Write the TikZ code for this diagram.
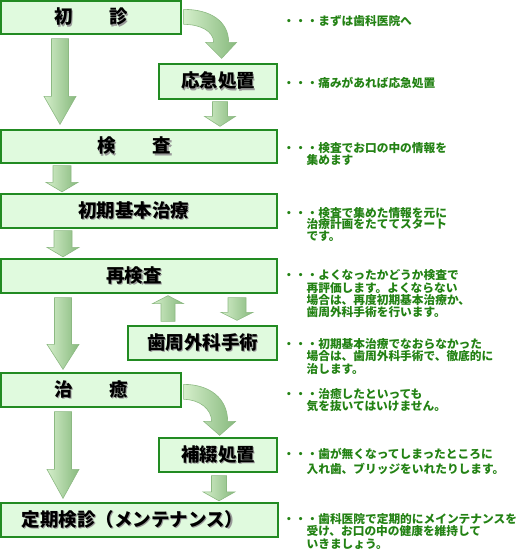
\documentclass[tikz,border=0pt]{standalone}
\usepackage{fontspec}
\newfontfamily\jp{Noto Sans CJK JP}
\usetikzlibrary{calc}
\definecolor{boxline}{RGB}{34,139,34}
\definecolor{boxfill}{RGB}{224,250,222}
\definecolor{notegreen}{RGB}{35,130,20}
\definecolor{arrL}{RGB}{212,238,202}
\definecolor{arrM}{RGB}{182,222,170}
\definecolor{arrR}{RGB}{135,185,125}
\definecolor{arrLine}{RGB}{140,185,130}
\newcommand\shtxt[1]{\makebox[0pt][l]{\raisebox{-1.3pt}{\hspace{1.3pt}\textcolor{black!40}{#1}}}#1}
\newcommand\nf[1]{\jp\bfseries\fontsize{11.7}{#1}\selectfont}
% #1 cx, #2 upper anchor, #3 lower anchor, #4 gap top, #5 gap tip, #6 shaft hw, #7 head hw, #8 head length
\newcommand\blkdown[8]{\path[blk] let \p1=(#2), \p2=(#3) in
  (#1pt-#6pt,\y1-#4pt) -- (#1pt+#6pt,\y1-#4pt) -- (#1pt+#6pt,\y2+#5pt+#8pt) -- (#1pt+#7pt,\y2+#5pt+#8pt)
  -- (#1pt,\y2+#5pt) -- (#1pt-#7pt,\y2+#5pt+#8pt) -- (#1pt-#6pt,\y2+#5pt+#8pt) -- cycle;}
% #1 cx, #2 lower anchor (start), #3 upper anchor (tip side)
\newcommand\blkup[8]{\path[blk] let \p1=(#2), \p2=(#3) in
  (#1pt-#6pt,\y1+#4pt) -- (#1pt+#6pt,\y1+#4pt) -- (#1pt+#6pt,\y2-#5pt-#8pt) -- (#1pt+#7pt,\y2-#5pt-#8pt)
  -- (#1pt,\y2-#5pt) -- (#1pt-#7pt,\y2-#5pt-#8pt) -- (#1pt-#6pt,\y2-#5pt-#8pt) -- cycle;}
\begin{document}
\begin{tikzpicture}[x=1pt,y=1pt,
  box/.style={draw=boxline, line width=1.3pt, fill=boxfill, inner sep=0pt,
    font=\jp\bfseries\fontsize{18.5}{20}\selectfont, text=black},
  note/.style={anchor=north west, inner sep=0pt, align=left, text=notegreen},
  blk/.style={draw=arrLine, line width=0.6pt, left color=arrL, middle color=arrM, right color=arrR}]
\useasboundingbox (0,0) rectangle (521,-550);

% boxes
\node[box, minimum width=180pt, minimum height=33pt] (shoshin) at (91,-17.5) {\shtxt{初　　診}};
\node[box, minimum width=118pt, minimum height=35pt] (oukyuu) at (218,-81.5) {\shtxt{応急処置}};
\node[box, minimum width=276pt, minimum height=33pt] (kensa) at (139,-146.5) {\shtxt{検　　査}\kern9pt};
\node[box, minimum width=276pt, minimum height=34pt] (shoki) at (139,-211) {\shtxt{初期基本治療}\kern11pt};
\node[box, minimum width=276pt, minimum height=34pt] (saikensa) at (139,-276) {\shtxt{再検査}\kern10pt};
\node[box, minimum width=149pt, minimum height=34pt] (shishuu) at (202.5,-343) {\shtxt{歯周外科手術}};
\node[box, minimum width=180pt, minimum height=34pt] (chiyu) at (91,-390) {\shtxt{治　　癒}};
\node[box, minimum width=118pt, minimum height=34pt] (hotetsu) at (218,-455) {\shtxt{補綴処置}};
\node[box, minimum width=277pt, minimum height=34pt] (teiki) at (139.5,-520) {\shtxt{定期検診（メンテナンス）}\kern14pt};

% straight block arrows
\blkdown{60}{shoshin.south}{kensa.north}{4}{5}{8.5}{16}{28}
\blkdown{220}{oukyuu.south}{kensa.north}{2}{3}{7.5}{15.5}{10}
\blkdown{62}{kensa.south}{shoki.north}{2}{1.5}{9}{16}{9.5}
\blkdown{63}{shoki.south}{saikensa.north}{2}{1.5}{9}{16}{9.5}
\blkdown{63}{saikensa.south}{chiyu.north}{4}{3}{8.5}{16}{25}
\blkup{168}{shishuu.north}{saikensa.south}{4}{2}{7}{15.5}{8}
\blkdown{237}{saikensa.south}{shishuu.north}{4}{5}{9}{16}{8}
\blkdown{63}{chiyu.south}{teiki.north}{4}{4}{8.5}{16}{29}
\blkdown{219}{hotetsu.south}{teiki.north}{3}{1.5}{7.5}{16}{9}

% curved block arrows
\begin{scope}[shift={(shoshin.north east)}]
  \path[blk] (2,-9) .. controls (29,-9) and (47,-21) .. (47,-42) -- (55,-42) -- (40,-58) -- (24,-42) -- (32,-42)
    .. controls (32,-31) and (19,-24) .. (2,-24) -- cycle;
\end{scope}
\begin{scope}[shift={(chiyu.north east)}]
  \path[blk] (2,-12) .. controls (28,-12) and (46,-26) .. (46,-49) -- (54,-49) -- (38,-63) -- (22,-49) -- (30,-49)
    .. controls (30,-37) and (18,-27) .. (2,-27) -- cycle;
\end{scope}

% notes
\node[note, font=\nf{12}] (n1) at (283,-14.7) {・・・まずは歯科医院へ};
\node[note, font=\nf{12}] (n2) at (283,-76.7) {・・・痛みがあれば応急処置};
\node[note, font=\nf{11}] (n3) at (283,-142) {・・・検査でお口の中の情報を\\\hspace*{2em}集めます};
\node[note, font=\nf{11.5}] (n4) at (283,-207) {・・・検査で集めた情報を元に\\\hspace*{2em}治療計画をたててスタート\\\hspace*{2em}です。};
\node[note, font=\nf{12.3}] (n5) at (283,-269.7) {・・・よくなったかどうか検査で\\\hspace*{2em}再評価します。よくならない\\\hspace*{2em}場合は、再度初期基本治療か、\\\hspace*{2em}歯周外科手術を行います。};
\node[note, font=\nf{12.5}] (n6) at (283,-338) {・・・初期基本治療でなおらなかった\\\hspace*{2em}場合は、歯周外科手術で、徹底的に\\\hspace*{2em}治します。};
\node[note, font=\nf{12.5}] (n7) at (283,-388) {・・・治癒したといっても\\\hspace*{2em}気を抜いてはいけません。};
\node[note, font=\nf{15}] (n8) at (283,-448) {・・・歯が無くなってしまったところに\\\hspace*{2em}入れ歯、ブリッジをいれたりします。};
\node[note, font=\nf{12.5}] (n9) at (283,-513) {・・・歯科医院で定期的にメインテナンスを\\\hspace*{2em}受け、お口の中の健康を維持して\\\hspace*{2em}いきましょう。};
\end{tikzpicture}
\end{document}
